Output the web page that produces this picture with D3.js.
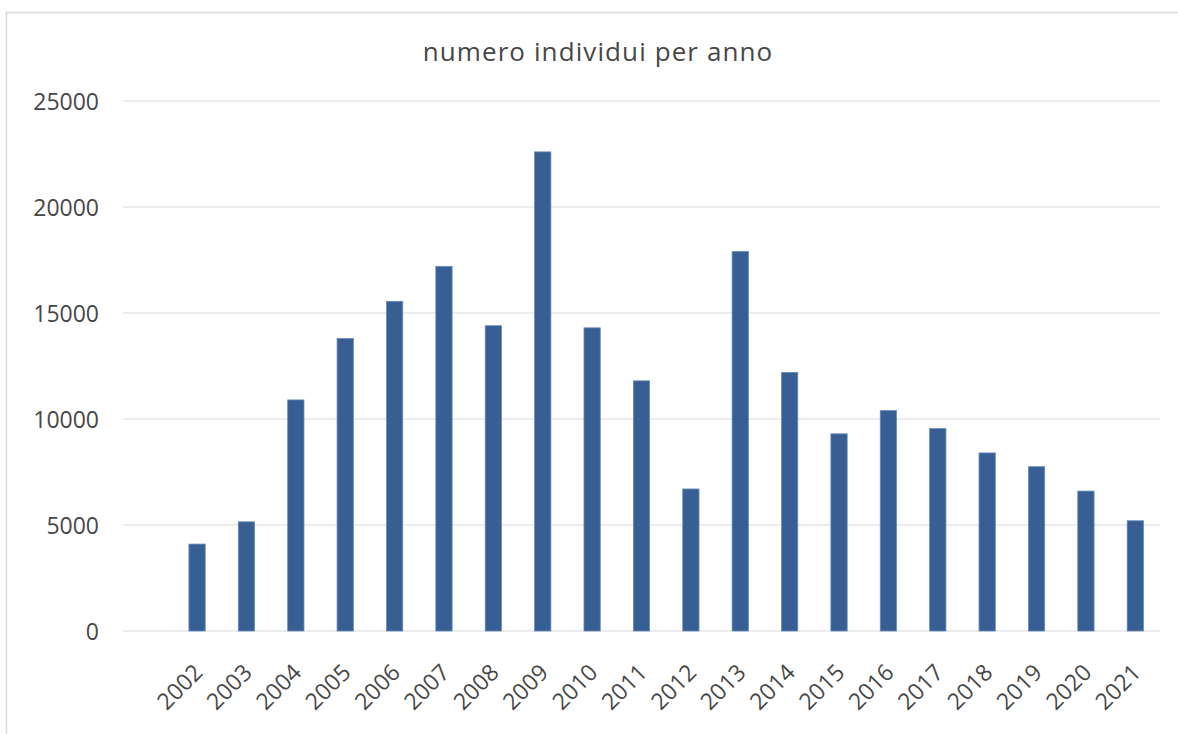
<!DOCTYPE html>
<html>
<head>
<meta charset="utf-8">
<script src="https://d3js.org/d3.v7.min.js"></script>
<style>
    body { margin: 0; background: #fff; }
    svg text { font-family: "Open Sans", Lato, sans-serif; fill: #474747; }
    .grid line { stroke: #d9d9d9; stroke-width: 1.2px; }
</style>
</head>
<body>
<script>
    const years = ['2002','2003','2004','2005','2006','2007','2008','2009','2010','2011',
        '2012','2013','2014','2015','2016','2017','2018','2019','2020','2021'];
    const individui = [4100, 5150, 10900, 13800, 15550, 17200, 14400, 22600, 14300, 11800,
        6700, 17900, 12200, 9300, 10400, 9550, 8400, 7750, 6600, 5200];
    const yTicks = [0, 5000, 10000, 15000, 20000, 25000];
    const title = 'numero individui per anno';

    const width = 1178, height = 734;
    const plotLeft = 123, plotRight = 1160, plotTop = 101, plotBottom = 631;

    const svg = d3.select('body').append('svg')
        .attr('width', width)
        .attr('height', height);

    // chart frame (cut off at right and bottom like the screenshot)
    svg.append('rect')
        .attr('x', 6.5).attr('y', 12.5)
        .attr('width', 1180).attr('height', 740)
        .attr('fill', '#fff')
        .attr('stroke', '#d9d9d9')
        .attr('stroke-width', 1.5);

    // an empty first slot, as in the original sheet
    const x = d3.scaleBand()
        .domain([''].concat(years))
        .range([plotLeft, plotRight])
        .paddingInner(0.67)
        .paddingOuter(0.335);

    const y = d3.scaleLinear()
        .domain([0, 25000])
        .range([plotBottom, plotTop]);

    svg.append('g')
        .attr('class', 'grid')
        .selectAll('line')
        .data(yTicks)
        .join('line')
        .attr('x1', plotLeft).attr('x2', plotRight)
        .attr('y1', d => y(d)).attr('y2', d => y(d));

    const yAxis = svg.append('g')
        .attr('transform', `translate(${plotLeft - 24},0)`)
        .call(d3.axisLeft(y).tickValues(yTicks).tickSize(0).tickPadding(0).tickFormat(d3.format('d')));
    yAxis.select('.domain').remove();
    yAxis.attr('font-family', null);
    yAxis.selectAll('text').style('font-size', '23px').attr('dy', '0.36em');

    svg.append('g')
        .selectAll('rect')
        .data(years)
        .join('rect')
        .attr('x', d => x(d))
        .attr('width', x.bandwidth())
        .attr('y', (d, i) => y(individui[i]))
        .attr('height', (d, i) => y(0) - y(individui[i]))
        .attr('fill', '#375f93')
        .attr('stroke', '#6a8bb8')
        .attr('stroke-width', 0.8);

    const xAxis = svg.append('g')
        .attr('transform', `translate(0,${plotBottom})`)
        .call(d3.axisBottom(x).tickValues(years).tickSize(0).tickPadding(0));
    xAxis.select('.domain').remove();
    xAxis.attr('font-family', null);
    xAxis.selectAll('text')
        .style('font-size', '23px')
        .attr('text-anchor', 'end')
        .attr('dy', null)
        .attr('y', 0)
        .attr('transform', 'translate(7,43) rotate(-45)');

    svg.append('text')
        .attr('x', 598)
        .attr('y', 61)
        .attr('text-anchor', 'middle')
        .style('font-size', '26px')
        .style('letter-spacing', '1.1px')
        .text(title);
</script>
</body>
</html>
